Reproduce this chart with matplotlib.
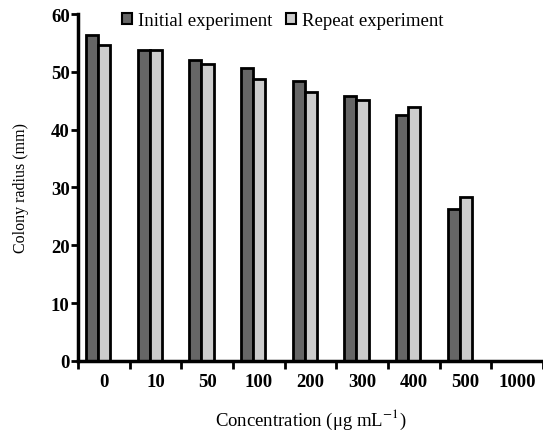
import numpy as np
import matplotlib.pyplot as plt
from matplotlib.patches import Patch

plt.rcParams['font.family'] = ['Liberation Serif', 'DejaVu Serif']
plt.rcParams['mathtext.fontset'] = 'stix'

concentrations = ['0', '10', '50', '100', '200', '300', '400', '500', '1000']
initial = [56.4, 53.8, 52.1, 50.6, 48.4, 45.8, 42.6, 26.3, 0]
repeat = [54.6, 53.8, 51.4, 48.8, 46.5, 45.1, 43.9, 28.4, 0]

x = np.arange(len(concentrations))
w = 0.235
shift = -0.11

fig = plt.figure(figsize=(5.43, 4.35), dpi=100)
ax = fig.add_axes([0.1436, 0.168, 0.8564, 0.7975])

ax.bar(x + shift - w / 2, initial, w, color='#666666', edgecolor='black', linewidth=2)
ax.bar(x + shift + w / 2, repeat, w, color='#cccccc', edgecolor='black', linewidth=2)

ax.set_xlim(-0.5, 8.5)
ax.set_ylim(0, 60)
ax.set_yticks(range(0, 61, 10))
ax.set_xticks(x)
ax.set_xticklabels(concentrations, fontweight='bold', fontsize=13.5)
ax.set_xticks(np.arange(-0.5, 8.6, 1), minor=True)
ax.tick_params(axis='x', which='major', length=0, pad=9)
ax.tick_params(axis='x', which='minor', length=6, width=2, direction='out')
ax.tick_params(axis='y', length=5, width=2, labelsize=13.5, pad=1)
for lab in ax.get_yticklabels():
    lab.set_fontweight('bold')

for s in ['top', 'right']:
    ax.spines[s].set_visible(False)
for s in ['left', 'bottom']:
    ax.spines[s].set_linewidth(2.5)

ax.set_ylabel('Colony radius (mm)', fontsize=11.5, labelpad=16)
ax.set_xlabel('Concentration (μg mL$^{-1}$)', fontsize=13.5, labelpad=12)

handles = [Patch(facecolor='#666666', edgecolor='black', linewidth=1.5),
           Patch(facecolor='#cccccc', edgecolor='black', linewidth=1.5)]
ax.legend(handles, ['Initial experiment', 'Repeat experiment'], loc='upper center',
          bbox_to_anchor=(0.44, 1.055), ncol=2, frameon=False, fontsize=13.5,
          handlelength=0.55, handleheight=0.55, handletextpad=0.3, columnspacing=0.7)

fig.savefig('out.png', dpi=100)
